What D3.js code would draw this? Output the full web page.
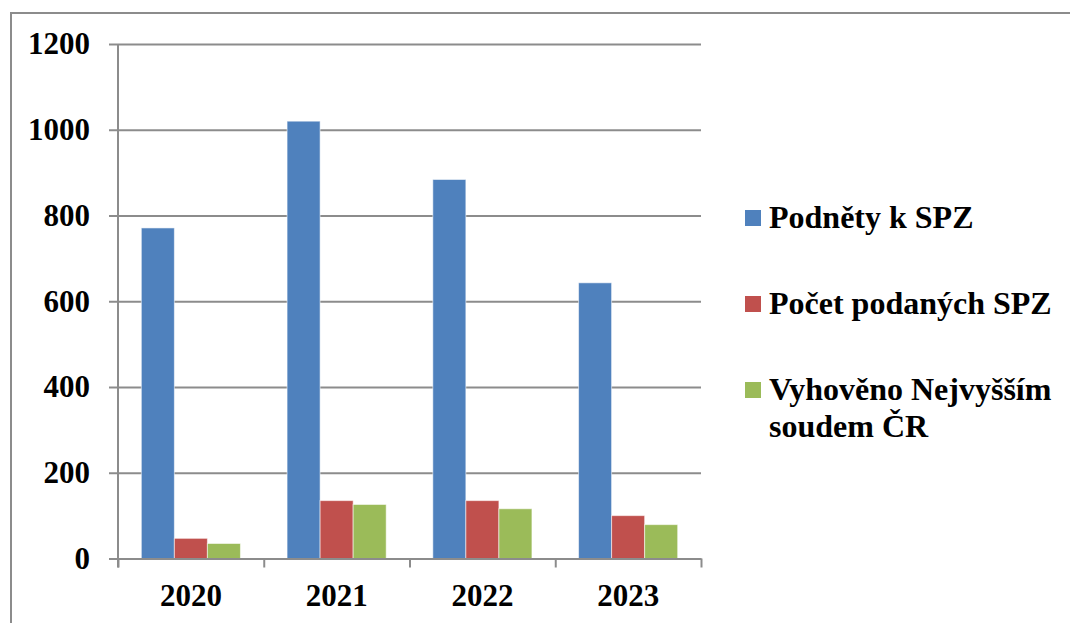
<!DOCTYPE html>
<html>
<head>
<meta charset="utf-8">
<script src="https://cdn.jsdelivr.net/npm/d3@7"></script>
<style>
	body { margin: 0; background: #fff; }
	text { font-family: "Liberation Serif", "Times New Roman", serif; font-weight: bold; fill: #000; }
</style>
</head>
<body>
<svg id="chart" width="1070" height="623"></svg>
<script>
// chart values
var years = ['2020', '2021', '2022', '2023'];
var seriesNames = ['Podněty k SPZ', 'Počet podaných SPZ', 'Vyhověno Nejvyšším soudem ČR'];
var podnety = [771, 1020, 884, 643];
var podane = [47, 135, 135, 100];
var vyhoveno = [35, 126, 116, 79];
var yTicks = [0, 200, 400, 600, 800, 1000, 1200];
var legendLines = [['Podněty k SPZ'], ['Počet podaných SPZ'], ['Vyhověno Nejvyšším', 'soudem ČR']];
var colors = ['#4F81BD', '#C0504D', '#9BBB59'];

var series = [podnety, podane, vyhoveno];

var svg = d3.select('#chart');
// plot box (note: "top" is taken by window, so prefixed names)
var pLeft = 118, pRight = 701, pTop = 44, pBottom = 558.5;
var gridColor = '#8c8c8c';

// outer frame (runs past the right / bottom of the picture)
svg.append('rect')
	.attr('x', 11).attr('y', 13)
	.attr('width', 1070).attr('height', 640)
	.attr('fill', 'none')
	.attr('stroke', gridColor)
	.attr('stroke-width', 2);

var x0 = d3.scaleBand().domain(years).range([pLeft, pRight]).padding(0);
var groupW = x0.bandwidth() * 0.68;
var x1 = d3.scaleBand().domain(d3.range(series.length)).range([0, groupW]).padding(0);
var y = d3.scaleLinear().domain([0, 1200]).range([pBottom, pTop]);

// gridlines
var grid = svg.append('g')
	.attr('transform', 'translate(' + pLeft + ',0)')
	.call(d3.axisLeft(y).tickValues(yTicks).tickSize(-(pRight - pLeft)).tickFormat(''));
grid.select('.domain').remove();
grid.selectAll('line').attr('stroke', gridColor).attr('stroke-width', 2);

// y axis with labels
var yAx = svg.append('g')
	.attr('transform', 'translate(' + pLeft + ',0)')
	.call(d3.axisLeft(y).tickValues(yTicks).tickFormat(d3.format('d'))
		.tickSize(9).tickSizeOuter(0).tickPadding(19));
yAx.select('.domain').attr('stroke', gridColor).attr('stroke-width', 2)
	.attr('d', 'M0,' + pTop + 'V' + (pBottom + 9));
yAx.selectAll('line').attr('stroke', gridColor).attr('stroke-width', 2);
yAx.selectAll('text').style('font-size', '31px').attr('font-family', null);

// bars
var groups = svg.append('g').selectAll('g')
	.data(years)
	.join('g')
	.attr('transform', (d) => 'translate(' + (x0(d) + (x0.bandwidth() - groupW) / 2) + ',0)');

groups.selectAll('rect')
	.data((d, i) => series.map((s, k) => ({ k: k, v: s[i] })))
	.join('rect')
	.attr('x', (d) => x1(d.k))
	.attr('width', x1.bandwidth())
	.attr('y', (d) => y(d.v))
	.attr('height', (d) => pBottom - y(d.v))
	.attr('fill', (d) => colors[d.k])
	.attr('stroke', 'rgba(255,255,255,0.55)')
	.attr('stroke-width', 1);

// x axis: boundary ticks
var xEdge = d3.scaleLinear().domain([0, years.length]).range([pLeft, pRight]);
var xTicks = svg.append('g')
	.attr('transform', 'translate(0,' + pBottom + ')')
	.call(d3.axisBottom(xEdge).ticks(years.length).tickSize(9).tickSizeOuter(0).tickFormat(''));
xTicks.select('.domain').attr('stroke', gridColor).attr('stroke-width', 2);
xTicks.selectAll('line').attr('stroke', gridColor).attr('stroke-width', 2);

// x axis: category labels
var xLab = svg.append('g')
	.attr('transform', 'translate(0,' + pBottom + ')')
	.call(d3.axisBottom(x0).tickSize(0).tickPadding(25));
xLab.select('.domain').remove();
xLab.selectAll('text').style('font-size', '31px').attr('font-family', null);

// legend
var legend = svg.append('g').selectAll('g')
	.data(legendLines)
	.join('g')
	.attr('transform', (d, i) => 'translate(745,' + (210 + i * 86) + ')');

legend.append('rect')
	.attr('width', 16).attr('height', 16)
	.attr('fill', (d, i) => colors[i]);

legend.append('text')
	.style('font-size', '32px')
	.selectAll('tspan')
	.data((d) => d)
	.join('tspan')
	.attr('x', 24)
	.attr('y', (d, j) => 18 + j * 37)
	.text((d) => d);
</script>
</body>
</html>
